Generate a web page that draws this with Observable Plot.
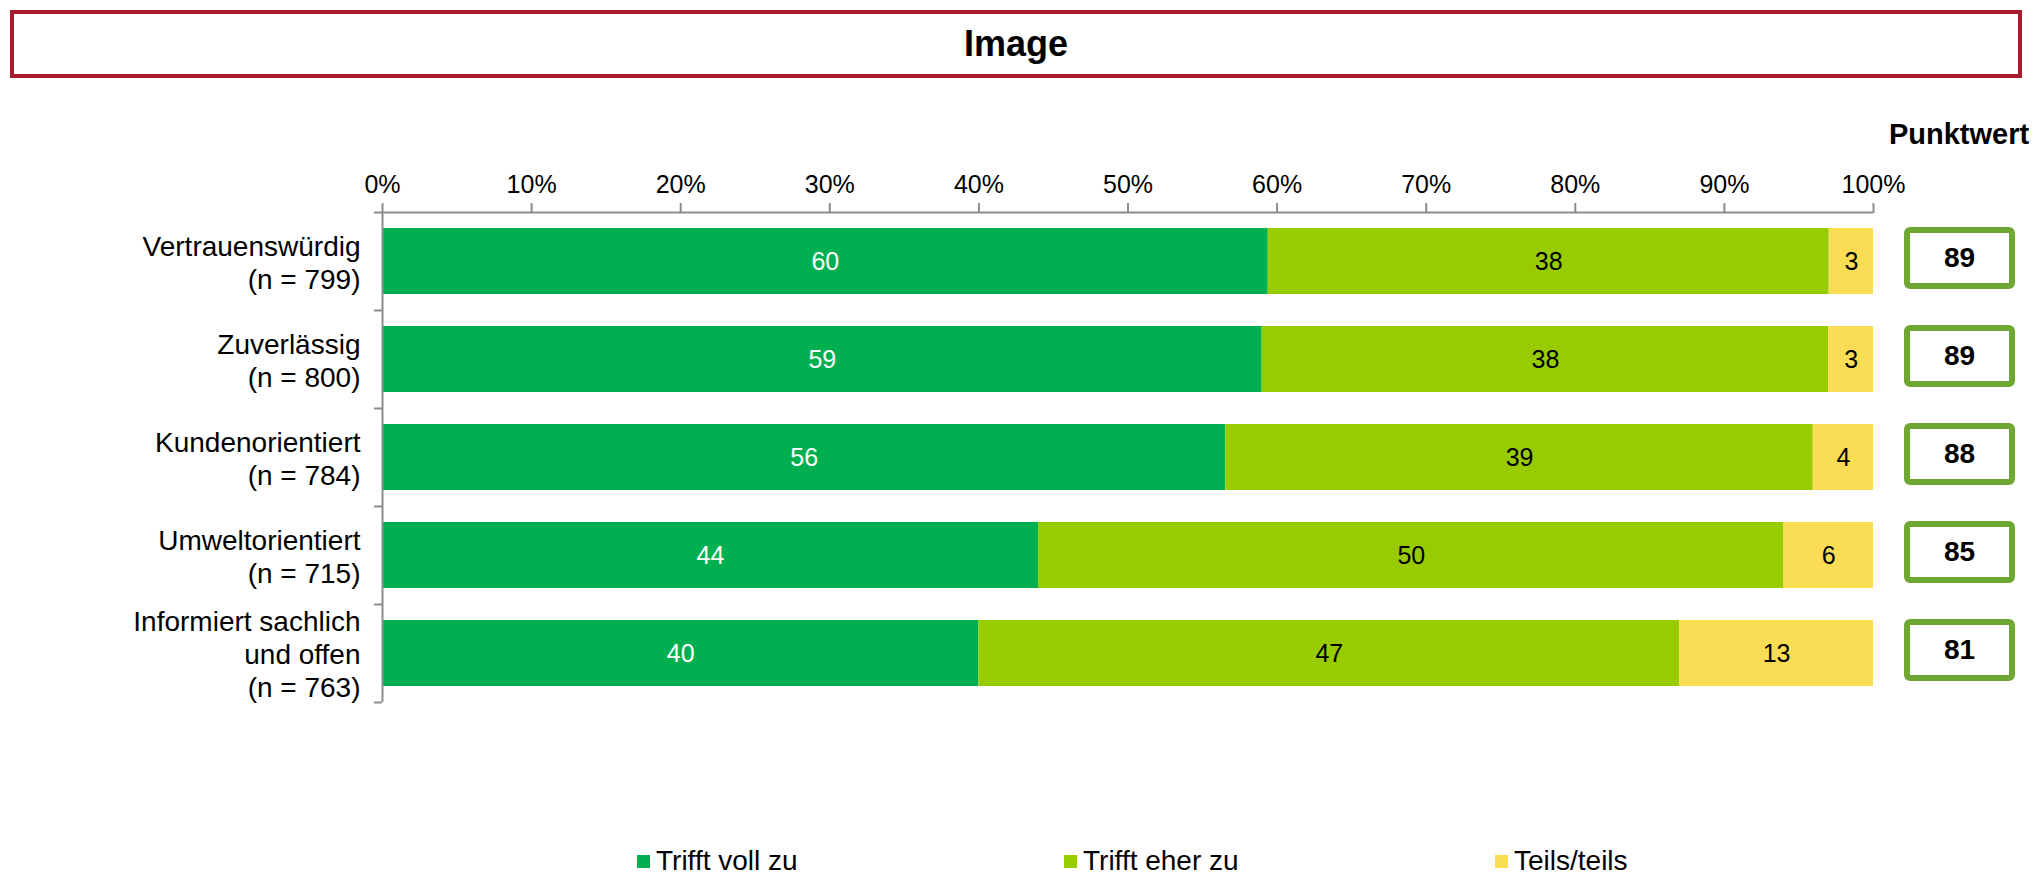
<!DOCTYPE html>
<html><head><meta charset="utf-8">
<script src="https://cdn.jsdelivr.net/npm/d3@7"></script>
<script src="https://cdn.jsdelivr.net/npm/@observablehq/plot@0.6"></script>
<style>
body{margin:0;background:#fff;font-family:"Liberation Sans",Arial,sans-serif;}
#wrap{position:relative;width:2035px;height:878px;overflow:hidden;background:#fff;}
#title{position:absolute;left:10px;top:10px;width:2012px;height:68px;box-sizing:border-box;border:4px solid #A6192E;display:flex;align-items:center;justify-content:center;font-weight:bold;font-size:36px;color:#000;}
#chart{position:absolute;left:0;top:90px;}
#punkt{position:absolute;left:1859px;width:200px;top:116px;text-align:center;font-weight:bold;font-size:29px;line-height:36px;color:#000;}
.leg{position:absolute;top:848px;font-size:28px;line-height:26px;display:flex;align-items:center;color:#000;white-space:nowrap;}
.sw{width:13px;height:13px;margin-right:6px;}
</style></head><body>
<div id="wrap">
  <div id="title">Image</div>
  <div id="chart"></div>
  <div id="punkt">Punktwert</div>
  <div id="legend"></div>
</div>
<script>
const categories = ["Vertrauenswürdig", "Zuverlässig", "Kundenorientiert", "Umweltorientiert", "Informiert sachlich\nund offen"];
const sampleSizes = [799, 800, 784, 715, 763];
const series = ["Trifft voll zu", "Trifft eher zu", "Teils/teils"];
const trifftVoll = [60, 59, 56, 44, 40];
const trifftEher = [38, 38, 39, 50, 47];
const teilsTeils = [3, 3, 4, 6, 13];
const punktwert = [89, 89, 88, 85, 81];
const xTicks = [0, 0.1, 0.2, 0.3, 0.4, 0.5, 0.6, 0.7, 0.8, 0.9, 1];
const colors = ["#00B050", "#99CC00", "#FADC55"];
const legendLeft = [637, 1064, 1495];

const seriesValues = [trifftVoll, trifftEher, teilsTeils];
const rows = categories.flatMap((c, i) => series.map((s, j) => ({cat: c, series: s, value: seriesValues[j][i]})));
const scoreRows = categories.map((c, i) => ({cat: c, score: punktwert[i]}));

const W = 2035, H = 740, mT = 122, mB = 128, mL = 382, mR = 162;
const step = (H - mT - mB) / categories.length;
const axisGray = "#8c8c8c";
const stackOpts = {offset: "normalize", x: "value", y: "cat", z: "series"};

const chart = Plot.plot({
  width: W, height: H,
  marginTop: mT, marginBottom: mB, marginLeft: mL, marginRight: mR,
  style: {fontFamily: "'Liberation Sans', Arial, sans-serif", fontSize: "25px", color: "#000", background: "transparent"},
  x: {domain: [0, 1], axis: null},
  y: {domain: categories, paddingInner: 0.33, paddingOuter: 0.165, axis: null},
  color: {domain: series, range: colors},
  marks: [
    Plot.barX(rows, Plot.stackX({...stackOpts, fill: "series"})),
    Plot.text(rows, Plot.stackX({...stackOpts, text: d => d.series === series[0] ? String(d.value) : null, fill: "white", fontSize: 25})),
    Plot.text(rows, Plot.stackX({...stackOpts, text: d => d.series !== series[0] ? String(d.value) : null, fill: "black", fontSize: 25})),
    Plot.ruleX([0], {stroke: axisGray, strokeWidth: 2}),
    Plot.ruleY([categories[0]], {dy: -step / 2, stroke: axisGray, strokeWidth: 2, insetLeft: -8}),
    Plot.ruleY(categories, {y: d => d, x1: d => 0, x2: d => 0, insetLeft: -8, dy: step / 2, stroke: axisGray, strokeWidth: 2}),
    Plot.axisX({anchor: "top", ticks: xTicks, tickFormat: d3.format(".0%"), tickSize: 10, tickPadding: 10, fontSize: 25, stroke: axisGray, strokeWidth: 2, fill: "#000", label: null}),
    Plot.barX(scoreRows, {x1: d => 1, x2: d => 1, y: "cat", insetLeft: 34, insetRight: -139, insetTop: 2, insetBottom: 8, fill: "white", stroke: "#6EA832", strokeWidth: 6, rx: 3}),
    Plot.text(scoreRows, {x: d => 1, y: "cat", text: d => String(d.score), dx: 86, dy: -3, fontWeight: "bold", fontSize: 28, fill: "#000"}),
    Plot.text(categories, {x: d => 0, y: d => d, text: (d, i) => d + "\n(n = " + sampleSizes[i] + ")", textAnchor: "end", dx: -22, fontSize: 28, lineHeight: 1.18, fill: "#000"})
  ]
});
document.getElementById("chart").appendChild(chart);

const legend = document.getElementById("legend");
series.forEach((s, i) => {
  const item = document.createElement("div");
  item.className = "leg";
  item.style.left = legendLeft[i] + "px";
  const sw = document.createElement("span");
  sw.className = "sw";
  sw.style.background = colors[i];
  item.appendChild(sw);
  item.appendChild(document.createTextNode(s));
  legend.appendChild(item);
});
</script>
</body></html>
